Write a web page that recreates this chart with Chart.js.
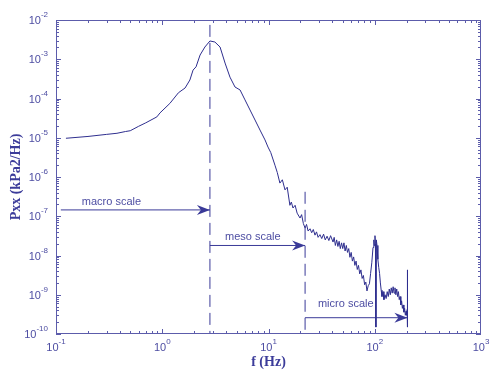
<!DOCTYPE html>
<html>
<head>
<meta charset="utf-8">
<script src="https://cdn.jsdelivr.net/npm/chart.js@4/dist/chart.umd.min.js"></script>
<style>
  body { margin: 0; background: #fff; }
  #wrap { width: 490px; height: 371px; position: relative; }
</style>
</head>
<body>
<div id="wrap"><canvas id="psd"></canvas></div>
<script>
// spectrum (Hz, kPa^2/Hz)
const freq = [0.124, 0.2, 0.3, 0.375, 0.45, 0.5, 0.6, 0.7, 0.89, 0.953, 1.18, 1.42, 1.64, 1.82, 1.95, 2.08, 2.27, 2.52, 2.81, 3.13,
  3.5, 3.9, 4.34, 4.84, 5.4, 6.01, 6.7, 7.47, 8.32, 9.27, 9.89, 10.5, 11.5, 12.1, 12.8, 13.5, 14.3, 15.0, 15.9, 16.4,
  17.0, 17.8, 18.6, 19.8, 20.5, 21.3, 22.1, 22.8, 23.6, 24.6, 25.5, 26.4, 27.4, 28.3, 29.3, 30.5, 31.7, 33.0, 34.2, 35.6,
  37.0, 38.4, 40.5, 41.5, 42.6, 43.8, 45.0, 46.2, 47.4, 48.7, 50.0, 51.3, 52.6, 54.0, 55.4, 56.9, 58.4, 60.0, 61.6, 63.3,
  65.0, 66.7, 68.5, 70.3, 72.2, 74.1, 76.1, 78.2, 80.3, 82.4, 84.5, 86.8, 89.1, 91.4, 93.8, 96.3, 98.0, 99.2, 100.5, 101.5,
  102.5, 103.5, 105, 107, 109, 111, 113, 115, 117, 119.6, 122, 125, 128, 131, 134, 137, 140, 143, 146, 149,
  152, 155, 158, 161, 164, 167, 170, 173, 176, 179, 182, 185, 188, 191, 194, 197, 200, 202, 203, 203.5];
const pxx = [9.7e-6, 1.08e-5, 1.22e-5, 1.3e-5, 1.44e-5, 1.51e-5, 1.96e-5, 2.4e-5, 3.4e-5, 4.3e-5, 7.5e-5, 1.4e-4, 1.85e-4, 2.96e-4, 5.3e-4, 6.4e-4, 1.28e-3, 2.05e-3, 2.92e-3, 2.75e-3,
  2.05e-3, 8.0e-4, 3.5e-4, 1.96e-4, 1.65e-4, 9.2e-5, 5.1e-5, 2.83e-5, 1.57e-5, 8.8e-6, 5.8e-6, 4.2e-6, 2.0e-6, 1.3e-6, 7e-7, 8.5e-7, 4.7e-7, 5.5e-7, 1.9e-7, 2.3e-7,
  1.62e-7, 1.9e-7, 1.2e-7, 9e-8, 1.1e-7, 6.5e-8, 5.0e-8, 6.2e-8, 4.2e-8, 4.8e-8, 3.8e-8, 4.6e-8, 3.3e-8, 4.0e-8, 2.9e-8, 3.4e-8, 2.7e-8, 3.5e-8, 2.5e-8, 3.1e-8,
  2.4e-8, 3.2e-8, 2.2e-8, 2.9e-8, 1.8e-8, 2.5e-8, 1.7e-8, 2.3e-8, 1.5e-8, 2.1e-8, 1.5e-8, 2.1e-8, 1.3e-8, 1.8e-8, 1.2e-8, 1.5e-8, 9e-9, 1.2e-8, 7.2e-9, 9.2e-9,
  5.6e-9, 7.2e-9, 4.4e-9, 5.6e-9, 3.4e-9, 4.3e-9, 2.6e-9, 3.1e-9, 1.8e-9, 2.1e-9, 1.25e-9, 1.7e-9, 1.9e-9, 3.5e-9, 6.5e-9, 1.6e-8, 2.5e-8, 1.8e-8, 3.2e-8, 2.0e-8,
  1.5e-10, 2.5e-8, 1.8e-8, 8e-9, 5e-9, 3.5e-9, 2.0e-9, 1.3e-9, 9e-10, 1.2e-9, 7.5e-10, 1.0e-9, 8e-10, 1.2e-9, 9e-10, 1.4e-9, 1.0e-9, 1.5e-9, 1.1e-9, 1.6e-9,
  1.1e-9, 1.5e-9, 1.0e-9, 1.4e-9, 9e-10, 1.2e-9, 7.5e-10, 9e-10, 5.5e-10, 7e-10, 4.5e-10, 5.5e-10, 3.6e-10, 4.5e-10, 3.0e-10, 3.8e-10, 3.0e-10, 4.2e-10, 4.3e-9, 1.5e-10];

// scale boundaries (dashed) and arrows
const macroBound = [2.81, 2.81], macroBoundY = [7.5e-3, 1e-10];
const mesoBound = [22.1, 22.1], mesoBoundY = [4.2e-7, 1e-10];
const macroArrowX = [0.111, 2.81], macroArrowY = [1.45e-7, 1.45e-7];
const mesoArrowX = [2.81, 22.1], mesoArrowY = [1.8e-8, 1.8e-8];
const microArrowX = [22.1, 203], microArrowY = [2.6e-10, 2.6e-10];
const scaleLabels = ["macro scale", "meso scale", "micro scale"];
const labelX = [0.175, 3.9, 29.2];
const labelY = [2.35e-7, 2.96e-8, 5.8e-10];

const xMin = 0.1, xMax = 1000, yMin = 1e-10, yMax = 1e-2;

const LINE = "#2e2e8e";
const AXIS = "#5c5cab";
const TEXT = "#4d4da2";
const MARK = "#3a3a98";

const pts = (xs, ys) => xs.map((x, i) => ({ x: x, y: ys[i] }));

const arrowDatasets = [
  pts(macroArrowX, macroArrowY),
  pts(mesoArrowX, mesoArrowY),
  pts(microArrowX, microArrowY),
];

const decorPlugin = {
  id: "decor",
  afterDatasetsDraw(chart) {
    const ctx = chart.ctx;
    const xs = chart.scales.x, ys = chart.scales.y;
    // arrow heads
    ctx.save();
    ctx.fillStyle = MARK;
    arrowDatasets.forEach((d) => {
      const end = d[d.length - 1];
      const px = xs.getPixelForValue(end.x), py = ys.getPixelForValue(end.y);
      ctx.beginPath();
      ctx.moveTo(px, py);
      ctx.lineTo(px - 13, py - 5);
      ctx.lineTo(px - 9, py);
      ctx.lineTo(px - 13, py + 5);
      ctx.closePath();
      ctx.fill();
    });
    // labels
    ctx.fillStyle = TEXT;
    ctx.font = "11px 'Liberation Sans', Arial, sans-serif";
    ctx.textBaseline = "middle";
    ctx.textAlign = "left";
    scaleLabels.forEach((t, i) => {
      ctx.fillText(t, xs.getPixelForValue(labelX[i]), ys.getPixelForValue(labelY[i]));
    });
    ctx.restore();
  },
  afterDraw(chart) {
    const ctx = chart.ctx;
    const a = chart.chartArea;
    const xs = chart.scales.x, ys = chart.scales.y;
    ctx.save();
    ctx.strokeStyle = AXIS;
    ctx.lineWidth = 1;
    ctx.strokeRect(a.left + 0.5, a.top + 0.5, a.right - a.left - 1, a.bottom - a.top - 1);

    ctx.beginPath();
    // x ticks (bottom and top, inward)
    for (let e = -1; e < 3; e++) {
      for (let k = 1; k < 10; k++) {
        const v = k * Math.pow(10, e);
        const px = Math.round(xs.getPixelForValue(v)) + 0.5;
        const len = k === 1 ? 5 : 3;
        ctx.moveTo(px, a.bottom); ctx.lineTo(px, a.bottom - len);
        ctx.moveTo(px, a.top); ctx.lineTo(px, a.top + len);
      }
    }
    // y ticks (left and right, inward)
    for (let e = -10; e < -2; e++) {
      for (let k = 1; k < 10; k++) {
        const v = k * Math.pow(10, e);
        const py = Math.round(ys.getPixelForValue(v)) + 0.5;
        const len = k === 1 ? 5 : 3;
        ctx.moveTo(a.left, py); ctx.lineTo(a.left + len, py);
        ctx.moveTo(a.right, py); ctx.lineTo(a.right - len, py);
      }
    }
    ctx.stroke();

    // power-of-ten labels with raised exponent
    ctx.fillStyle = TEXT;
    ctx.textBaseline = "middle";
    ctx.textAlign = "left";
    const base = "11px 'Liberation Sans', Arial, sans-serif";
    const sup = "8px 'Liberation Sans', Arial, sans-serif";
    for (let e = -1; e <= 3; e++) {
      const px = xs.getPixelForValue(Math.pow(10, e));
      const ex = String(e);
      ctx.font = base; const w1 = ctx.measureText("10").width;
      ctx.font = sup; const w2 = ctx.measureText(ex).width;
      const x0 = px - (w1 + w2) / 2;
      ctx.font = base;
      ctx.fillText("10", x0, a.bottom + 14);
      ctx.font = sup;
      ctx.fillText(ex, x0 + w1, a.bottom + 8);
    }
    for (let e = -10; e <= -2; e++) {
      const py = ys.getPixelForValue(Math.pow(10, e));
      const ex = String(e);
      ctx.font = sup; const w2 = ctx.measureText(ex).width;
      ctx.font = base; const w1 = ctx.measureText("10").width;
      const x0 = a.left - 8 - w2 - w1;
      ctx.fillText("10", x0, py + 1);
      ctx.font = sup;
      ctx.fillText(ex, x0 + w1, py - 5);
    }
    ctx.restore();
  },
};

const lineStyle = { pointRadius: 0, borderWidth: 1, tension: 0, fill: false };
const titleFont = { family: "'Liberation Serif', 'Times New Roman', serif", size: 14, weight: "bold" };

new Chart(document.getElementById("psd"), {
  type: "line",
  data: {
    datasets: [
      { ...lineStyle, data: pts(freq, pxx), borderColor: LINE },
      { ...lineStyle, data: pts(macroBound, macroBoundY), borderColor: MARK, borderDash: [12, 6] },
      { ...lineStyle, data: pts(mesoBound, mesoBoundY), borderColor: MARK, borderDash: [12, 6] },
      { ...lineStyle, data: arrowDatasets[0], borderColor: MARK },
      { ...lineStyle, data: arrowDatasets[1], borderColor: MARK },
      { ...lineStyle, data: arrowDatasets[2], borderColor: MARK },
    ],
  },
  options: {
    responsive: true,
    maintainAspectRatio: false,
    animation: false,
    layout: { padding: { top: 20, right: 9, left: 0, bottom: 0 } },
    plugins: { legend: { display: false }, tooltip: { enabled: false } },
    scales: {
      x: {
        type: "logarithmic",
        min: xMin,
        max: xMax,
        grid: { display: false },
        border: { display: false },
        ticks: { display: false },
        title: { display: true, text: "f (Hz)", color: "#3c3c9a", font: titleFont, padding: { top: 0, bottom: 0 } },
        afterFit: (s) => { s.height = 37; },
      },
      y: {
        type: "logarithmic",
        min: yMin,
        max: yMax,
        grid: { display: false },
        border: { display: false },
        ticks: { display: false },
        title: { display: true, text: "Pxx (kPa2/Hz)", color: "#3c3c9a", font: titleFont, padding: { top: 8, bottom: 0 } },
        afterFit: (s) => { s.width = 56; },
      },
    },
  },
  plugins: [decorPlugin],
});
</script>
</body>
</html>
